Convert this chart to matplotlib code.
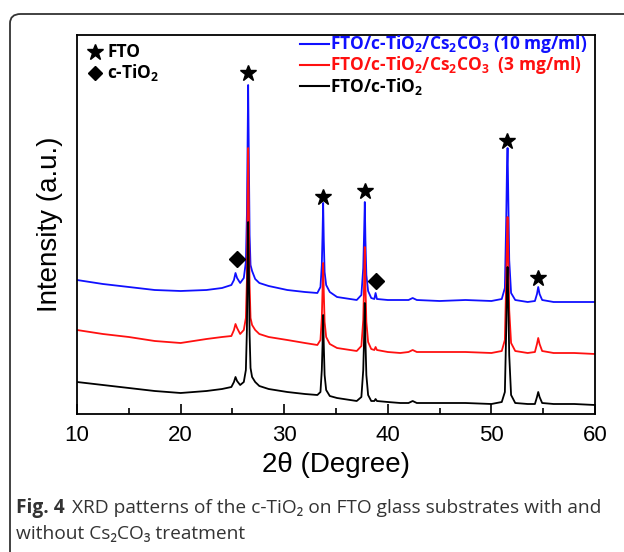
import matplotlib
matplotlib.use("Agg")
import matplotlib.pyplot as plt
from matplotlib.patches import FancyBboxPatch
from matplotlib.ticker import MultipleLocator

plt.rcParams["mathtext.fontset"] = "custom"
plt.rcParams["mathtext.bf"] = "Open Sans:bold"
plt.rcParams["mathtext.rm"] = "Open Sans"
plt.rcParams["mathtext.default"] = "bf"

# 2-theta grid (denser around the peaks)
two_theta = [10, 12.5, 15, 17.5, 20, 22.5, 24, 24.9, 25.15, 25.3, 25.45, 25.75,
             26.1, 26.3, 26.4, 26.47, 26.52, 26.58, 26.66, 26.75, 26.9, 27.2, 27.6,
             28.5, 30.3, 32, 33.2, 33.5, 33.63, 33.7, 33.76, 33.82, 33.9, 34.05,
             34.4, 35.1, 37, 37.45, 37.63, 37.72, 37.78, 37.84, 37.93, 38.1, 38.4,
             38.7, 38.82, 38.95, 40, 41.2, 42.0, 42.4, 42.8, 45, 47.5, 50, 51.0,
             51.3, 51.43, 51.5, 51.56, 51.62, 51.72, 51.9, 52.3, 53.5, 54.2, 54.4,
             54.52, 54.65, 54.9, 56, 58, 60]

# FTO/c-TiO2/Cs2CO3 (10 mg/ml), offset trace
blue_int = [134, 130, 127, 124, 123, 124, 126, 129, 134, 141, 136, 131,
            136, 152, 199, 274, 329, 264, 179, 149, 143, 135, 131,
            128, 124, 122, 121, 127, 149, 179, 211, 174, 142, 129,
            122, 117, 114, 119, 146, 184, 212, 174, 139, 123, 116,
            115, 121, 115, 114, 114, 114, 116, 114, 113, 114, 113, 115,
            126, 194, 244, 266, 224, 154, 121, 114, 112, 113, 120,
            127, 120, 114, 112, 112, 112]

# FTO/c-TiO2/Cs2CO3 (3 mg/ml)
red_int = [84, 80, 77, 73, 71, 75, 77, 78, 84, 90, 86, 80,
           84, 96, 134, 214, 266, 209, 129, 96, 89, 84, 80,
           77, 74, 71, 69, 74, 96, 124, 151, 122, 92, 77,
           70, 66, 63, 68, 94, 134, 167, 129, 92, 72, 65,
           64, 67, 64, 62, 61, 62, 64, 62, 62, 62, 61, 63,
           74, 134, 174, 197, 164, 104, 71, 63, 61, 62, 70,
           76, 70, 63, 61, 61, 60]

# FTO/c-TiO2
black_int = [32, 29, 26, 23, 21, 23, 25, 27, 32, 37, 33, 29,
             32, 44, 84, 154, 192, 149, 79, 46, 37, 32, 28,
             25, 22, 20, 19, 22, 44, 69, 99, 69, 39, 24,
             18, 16, 13, 17, 44, 79, 111, 74, 39, 19, 13,
             13, 15, 13, 12, 11, 11, 13, 11, 11, 11, 10, 12,
             22, 84, 129, 147, 119, 59, 19, 11, 10, 10, 17,
             22, 17, 11, 10, 10, 9]

labels = ["FTO/c-TiO$_2$/Cs$_2$CO$_3$ (10 mg/ml)",
          "FTO/c-TiO$_2$/Cs$_2$CO$_3$  (3 mg/ml)",
          "FTO/c-TiO$_2$"]
colors = ["#1010ff", "#ff1010", "#000000"]

# peak markers: FTO stars and c-TiO2 diamonds
star_x = [26.5, 33.75, 37.8, 51.55, 54.5]
star_y = [341, 217, 223, 273, 136]
diamond_x = [25.4, 38.9]
diamond_y = [155, 133]

bold_font = ["Open Sans", "DejaVu Sans"]
cap_font = ["Open Sans", "DejaVu Sans"]

fig = plt.figure(figsize=(6.24, 5.52), dpi=100)

# rounded frame around the figure (cut off at right and bottom)
frame = FancyBboxPatch((10 / 624, -0.2), 1.2, 0.2 + 538 / 552,
                       boxstyle="round,pad=0,rounding_size=0.017",
                       transform=fig.transFigure, fill=False,
                       edgecolor="#333333", linewidth=1.3)
fig.patches.append(frame)

ax = fig.add_axes([77 / 624, 1 - 414 / 552, 518 / 624, 379 / 552])

for y, c in zip([blue_int, red_int, black_int], colors):
    ax.plot(two_theta, y, color=c, lw=1.3)

ax.plot(star_x, star_y, ls="none", marker="*", ms=12, color="black")
ax.plot(diamond_x, diamond_y, ls="none", marker="D", ms=8, color="black")

ax.set_xlim(10, 60)
ax.set_ylim(0, 379)
ax.set_yticks([])
ax.xaxis.set_major_locator(MultipleLocator(10))
ax.xaxis.set_minor_locator(MultipleLocator(5))
ax.tick_params(axis="x", which="major", direction="in", length=7, width=1.2,
               labelsize=16, pad=8)
ax.tick_params(axis="x", which="minor", direction="in", length=4, width=1.2)
for s in ax.spines.values():
    s.set_linewidth(1.3)
for t in ax.get_xticklabels():
    t.set_fontfamily("Liberation Sans")

ax.set_xlabel("2\u03b8 (Degree)", fontsize=20, family="Liberation Sans", labelpad=4)
ax.set_ylabel("Intensity (a.u.)", fontsize=20, family="Liberation Sans", labelpad=10)

# legend drawn by hand (short line + coloured bold text)
leg_y = [0.975, 0.92, 0.865]
for yy, lab, c in zip(leg_y, labels, colors):
    ax.plot([0.431, 0.486], [yy, yy], transform=ax.transAxes, color=c, lw=1.5,
            clip_on=False)
    ax.text(0.488, yy, lab, transform=ax.transAxes, color=c, fontsize=12.5,
            fontweight="bold", family=bold_font, va="center")

# symbol key, top left
ax.plot([0.035], [0.955], transform=ax.transAxes, marker="*", ms=12, color="black")
ax.plot([0.035], [0.9], transform=ax.transAxes, marker="D", ms=7, color="black")
ax.text(0.058, 0.955, "FTO", transform=ax.transAxes, fontsize=12.5, fontweight="bold",
        family=bold_font, va="center")
ax.text(0.058, 0.9, "c-TiO$_2$", transform=ax.transAxes, fontsize=12.5,
        fontweight="bold", family=bold_font, va="center")

# caption
fig.text(16 / 624, 1 - 508 / 552, "Fig. 4", fontsize=13.8, fontweight="bold",
         family=cap_font, color="#333333", va="center")
fig.text(72 / 624, 1 - 508 / 552,
         "XRD patterns of the c-TiO\u2082 on FTO glass substrates with and",
         fontsize=13.8, family=cap_font, color="#333333", va="center")
fig.text(16 / 624, 1 - 534 / 552, "without Cs\u2082CO\u2083 treatment",
         fontsize=13.8, family=cap_font, color="#333333", va="center")

fig.savefig("out.png", dpi=100)
